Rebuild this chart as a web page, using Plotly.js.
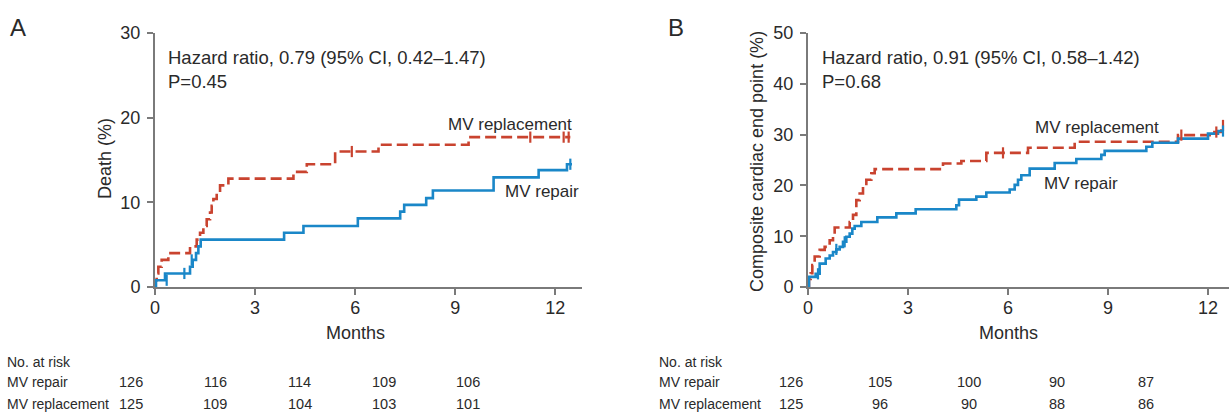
<!DOCTYPE html>
<html><head><meta charset="utf-8">
<script src="https://cdn.plot.ly/plotly-3.0.1.min.js"></script>
<style>body{margin:0;background:#fff}</style></head>
<body><div id="chart" style="width:1229px;height:415px"></div>
<script>
// ---------- data ----------
const monthTicks = [0, 3, 6, 9, 12];
const groups = ['MV repair', 'MV replacement'];

// Panel A: Death (%)
const aRepairT = [0, 0.03, 0.3, 1.05, 1.13, 1.23, 1.3, 1.37, 3.87, 4.45, 6.08, 7.35, 7.47, 8.13, 8.33, 10.15, 11.5, 12.35, 12.5];
const aRepairV = [0, 0.8, 1.6, 2.4, 3.2, 4.0, 4.8, 5.6, 6.4, 7.2, 8.1, 8.9, 9.7, 10.5, 11.4, 12.95, 13.8, 14.5, 14.5];
const aRepairCensT = [0.35, 0.88, 1.1, 12.45];
const aRepairCensV = [0.8, 1.6, 3.2, 14.5];

const aReplT = [0, 0.02, 0.05, 0.1, 0.2, 0.4, 1.05, 1.25, 1.35, 1.45, 1.55, 1.65, 1.7, 1.75, 1.85, 1.95, 2.2, 4.15, 4.55, 5.4, 6.7, 9.4, 12.45];
const aReplV = [0, 0.8, 1.6, 2.4, 3.2, 4.0, 4.8, 5.6, 6.4, 7.2, 8.0, 8.8, 9.6, 10.4, 11.2, 12.0, 12.8, 13.6, 14.5, 16.0, 16.8, 17.7, 17.7];
const aReplCensT = [5.9, 11.25, 12.25, 12.4];
const aReplCensV = [16.0, 17.7, 17.7, 17.7];

// Panel B: Composite cardiac end point (%)
const bRepairT = [0, 0.03, 0.23, 0.35, 0.53, 0.65, 0.75, 0.85, 0.95, 1.05, 1.15, 1.25, 1.33, 1.4, 1.6, 2.08, 2.65, 3.23, 4.45, 4.53, 5.05, 5.35, 6.05, 6.2, 6.3, 6.4, 6.65, 7.4, 8.05, 8.8, 8.9, 10.15, 10.33, 11.1, 12.0, 12.3, 12.45];
const bRepairV = [0, 2.0, 2.6, 4.6, 5.6, 6.2, 6.9, 7.4, 7.9, 8.9, 9.9, 10.5, 11.5, 12.0, 12.8, 13.7, 14.5, 15.3, 16.1, 17.2, 17.8, 18.6, 19.2, 20.1, 21.1, 22.0, 23.3, 24.4, 25.2, 26.0, 26.8, 27.6, 28.4, 29.2, 30.2, 30.7, 30.7];
const bRepairCensT = [0.3, 0.85, 1.1, 12.45];
const bRepairCensV = [2.6, 7.4, 8.9, 30.7];

const bReplT = [0, 0.03, 0.08, 0.13, 0.2, 0.35, 0.5, 0.65, 0.75, 0.8, 1.25, 1.35, 1.45, 1.55, 1.65, 1.75, 1.9, 2.0, 4.05, 4.6, 5.35, 6.6, 8.0, 11.1, 12.05, 12.4, 12.45];
const bReplV = [0, 1.6, 2.7, 4.3, 6.0, 7.3, 7.9, 9.2, 10.4, 11.7, 12.8, 14.2, 17.1, 18.4, 19.8, 21.1, 22.4, 23.2, 24.3, 24.8, 26.4, 27.4, 28.6, 29.9, 30.5, 31.8, 31.8];
const bReplCensT = [5.85, 11.2, 12.25, 12.45];
const bReplCensV = [26.4, 29.9, 30.5, 31.8];

// Number at risk
const aRiskRepair = [126, 116, 114, 109, 106];
const aRiskRepl = [125, 109, 104, 103, 101];
const bRiskRepair = [126, 105, 100, 90, 87];
const bRiskRepl = [125, 96, 90, 88, 86];

const aHR = 'Hazard ratio, 0.79 (95% CI, 0.42–1.47)';
const aP = 'P=0.45';
const bHR = 'Hazard ratio, 0.91 (95% CI, 0.58–1.42)';
const bP = 'P=0.68';

// ---------- styling ----------
const W = 1229, H = 415;
const px = x => x / W;
const py = y => 1 - y / H;
const BLUE = '#1a87c8', RED = '#c9432f', AX = '#7a7a7a', TXT = '#2a2a2a';
const FONT = 'Liberation Sans, Arial, sans-serif';

function curve(t, v, color, dash, xa, ya) {
  return {x: t, y: v, xaxis: xa, yaxis: ya, mode: 'lines', line: {shape: 'hv', color: color, width: 2.6, dash: dash}, hoverinfo: 'skip', showlegend: false};
}
function cens(t, v, color, xa, ya) {
  return {x: t, y: v, xaxis: xa, yaxis: ya, mode: 'markers', cliponaxis: false,
    marker: {symbol: 'line-ns', size: 8, line: {color: color, width: 2.2}}, hoverinfo: 'skip', showlegend: false};
}

const traces = [
  curve(aReplT, aReplV, RED, '11px,5px', 'x', 'y'),
  curve(aRepairT, aRepairV, BLUE, 'solid', 'x', 'y'),
  cens(aReplCensT, aReplCensV, RED, 'x', 'y'),
  cens(aRepairCensT, aRepairCensV, BLUE, 'x', 'y'),
  curve(bReplT, bReplV, RED, '11px,5px', 'x2', 'y2'),
  curve(bRepairT, bRepairV, BLUE, 'solid', 'x2', 'y2'),
  cens(bReplCensT, bReplCensV, RED, 'x2', 'y2'),
  cens(bRepairCensT, bRepairCensV, BLUE, 'x2', 'y2'),
];

const axisBase = {showgrid: false, zeroline: false, showline: true, linecolor: AX, linewidth: 2,
  ticks: 'outside', ticklen: 6, tickwidth: 2, tickcolor: AX, tickfont: {size: 18, color: TXT, family: FONT}, fixedrange: true};

const ydom = [py(287), py(33)];
const layout = {
  width: W, height: H, margin: {l: 0, r: 0, t: 0, b: 0}, paper_bgcolor: '#fff', plot_bgcolor: '#fff',
  font: {family: FONT, color: TXT},
  xaxis: Object.assign({}, axisBase, {domain: [px(155), px(582)], range: [0, 12.8], tickvals: monthTicks, ticklabelstandoff: -3, anchor: 'y'}),
  yaxis: Object.assign({}, axisBase, {domain: ydom, range: [0, 30], tickvals: [0, 10, 20, 30], ticklabelstandoff: 3, anchor: 'x'}),
  xaxis2: Object.assign({}, axisBase, {domain: [px(808), 1], range: [0, 12.63], tickvals: monthTicks, ticklabelstandoff: -3, anchor: 'y2'}),
  yaxis2: Object.assign({}, axisBase, {domain: ydom, range: [0, 50], tickvals: [0, 10, 20, 30, 40, 50], ticklabelstandoff: 3, anchor: 'x2'}),
  annotations: []
};

const ann = layout.annotations;
function txt(text, x, y, size, opts) {
  ann.push(Object.assign({text: text, x: px(x), y: py(y), xref: 'paper', yref: 'paper', showarrow: false,
    font: {size: size, color: TXT, family: FONT}, xanchor: 'left', yanchor: 'middle'}, opts || {}));
}
// panel letters
txt('A', 18, 28, 24, {xanchor: 'center'});
txt('B', 676, 28, 24, {xanchor: 'center'});
// HR / P
txt(aHR, 166, 57, 18.5);
txt(aP, 166, 81, 18.5);
txt(bHR, 820, 57, 18.5);
txt(bP, 820, 81, 18.5);
// curve labels
txt('MV replacement', 574, 124, 17, {xanchor: 'right'});
txt('MV repair', 503, 191, 17);
txt('MV replacement', 1033, 127, 17);
txt('MV repair', 1042, 184, 17);
// axis titles
txt('Death (%)', 105, 159, 18, {xanchor: 'center', textangle: -90});
txt('Composite cardiac end point (%)', 757, 162, 18, {xanchor: 'center', textangle: -90});
ann.push({text: 'Months', x: 6, xref: 'x', y: py(333), yref: 'paper', showarrow: false, font: {size: 18, color: TXT, family: FONT}, xanchor: 'center', yanchor: 'middle'});
ann.push({text: 'Months', x: 6, xref: 'x2', y: py(333), yref: 'paper', showarrow: false, font: {size: 18, color: TXT, family: FONT}, xanchor: 'center', yanchor: 'middle'});
// risk tables
function riskTable(x0, xs0, step, rep, repl) {
  txt('No. at risk', x0, 362, 14);
  txt(groups[0], x0, 382, 14);
  txt(groups[1], x0, 404, 14);
  rep.forEach((n, i) => txt(String(n), xs0 + step * i, 382, 14.5, {xanchor: 'center'}));
  repl.forEach((n, i) => txt(String(n), xs0 + step * i, 404, 14.5, {xanchor: 'center'}));
}
riskTable(5, 131, 84.3, aRiskRepair, aRiskRepl);
riskTable(657, 791, 88.8, bRiskRepair, bRiskRepl);

Plotly.newPlot('chart', traces, layout, {staticPlot: true, displayModeBar: false});
</script></body></html>
